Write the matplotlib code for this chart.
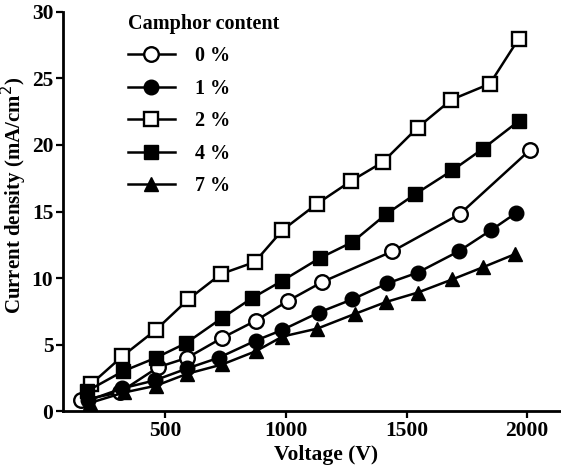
import matplotlib.pyplot as plt

plt.rcParams['font.family'] = ['Liberation Serif', 'DejaVu Serif']

# Voltage (V) and current density (mA/cm2) for each camphor content
v_0 = [150, 310, 470, 590, 735, 875, 1010, 1150, 1440, 1720, 2010]
j_0 = [0.8, 1.4, 3.3, 4.0, 5.5, 6.8, 8.3, 9.7, 12.0, 14.8, 19.6]

v_1 = [180, 320, 455, 590, 720, 875, 985, 1135, 1275, 1420, 1545, 1715, 1850, 1955]
j_1 = [0.8, 1.7, 2.3, 3.2, 4.0, 5.3, 6.1, 7.4, 8.4, 9.6, 10.4, 12.0, 13.6, 14.9]

v_2 = [190, 320, 460, 595, 730, 870, 985, 1130, 1270, 1400, 1545, 1685, 1845, 1965]
j_2 = [2.0, 4.1, 6.1, 8.4, 10.3, 11.2, 13.6, 15.6, 17.3, 18.7, 21.3, 23.4, 24.6, 28.0]

v_4 = [175, 325, 460, 585, 735, 860, 985, 1140, 1275, 1415, 1535, 1690, 1815, 1965]
j_4 = [1.5, 3.0, 4.0, 5.1, 7.0, 8.5, 9.8, 11.5, 12.7, 14.8, 16.3, 18.1, 19.7, 21.8]

v_7 = [185, 330, 460, 590, 735, 875, 985, 1130, 1285, 1415, 1545, 1690, 1815, 1950]
j_7 = [0.6, 1.4, 1.9, 2.8, 3.5, 4.5, 5.6, 6.2, 7.3, 8.2, 8.9, 9.9, 10.8, 11.8]

labels = ['0 %', '1 %', '2 %', '4 %', '7 %']

fig = plt.figure(figsize=(5.61, 4.70), dpi=100)
ax = fig.add_axes([0.1123, 0.1255, 0.8877, 0.849])

ms = 10.5
lw = 1.8
ax.plot(v_0, j_0, '-o', color='black', mfc='white', mec='black', mew=1.7, ms=ms, lw=lw, label=labels[0])
ax.plot(v_1, j_1, '-o', color='black', ms=ms, lw=lw, label=labels[1])
ax.plot(v_2, j_2, '-s', color='black', mfc='white', mec='black', mew=1.7, ms=ms, lw=lw, label=labels[2])
ax.plot(v_4, j_4, '-s', color='black', ms=ms, lw=lw, label=labels[3])
ax.plot(v_7, j_7, '-^', color='black', ms=ms, lw=lw, label=labels[4])

ax.set_xlim(75, 2140)
ax.set_ylim(0, 30)
ax.set_xticks([500, 1000, 1500, 2000])
ax.set_yticks([0, 5, 10, 15, 20, 25, 30])

for s in ['top', 'right']:
    ax.spines[s].set_visible(False)
for s in ['left', 'bottom']:
    ax.spines[s].set_linewidth(2)

ax.tick_params(direction='out', length=5, width=1.6, labelsize=15.5, pad=2)
for t in ax.get_xticklabels() + ax.get_yticklabels():
    t.set_fontweight('bold')

ax.set_xlabel('Voltage (V)', fontsize=15.5, fontweight='bold')
ax.set_ylabel('Current density (mA/cm$^2$)', fontsize=15, fontweight='bold')
ax.xaxis.set_label_coords(0.528, -0.085)
ax.yaxis.set_label_coords(-0.068, 0.54)

leg = ax.legend(title='Camphor content', loc='upper left', bbox_to_anchor=(0.13, 0.995),
                frameon=False, fontsize=14.5, title_fontsize=14.5, handlelength=2.35,
                handletextpad=1.0, labelspacing=0.62, borderaxespad=0, borderpad=0,
                alignment='left')
leg.get_title().set_fontweight('bold')
for t in leg.get_texts():
    t.set_fontweight('bold')

fig.savefig('out.png', dpi=100)
